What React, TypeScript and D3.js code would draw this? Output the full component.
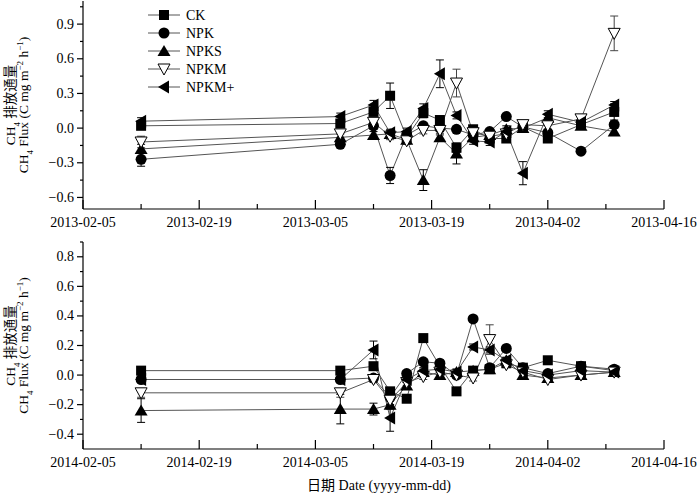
import * as d3 from 'd3';

const SERIES = ['CK', 'NPK', 'NPKS', 'NPKM', 'NPKM+'];

const dates2013 = ['2013-02-12', '2013-03-08', '2013-03-12', '2013-03-14', '2013-03-16', '2013-03-18', '2013-03-20', '2013-03-22', '2013-03-24', '2013-03-26', '2013-03-28', '2013-03-30', '2013-04-02', '2013-04-06', '2013-04-10'];
const dates2014 = ['2014-02-12', '2014-03-08', '2014-03-12', '2014-03-14', '2014-03-16', '2014-03-18', '2014-03-20', '2014-03-22', '2014-03-24', '2014-03-26', '2014-03-28', '2014-03-30', '2014-04-02', '2014-04-06', '2014-04-10'];

// 2013 flux
const ck2013 = [0.02, 0.04, 0.14, 0.28, -0.08, 0.13, 0.07, -0.17, -0.01, -0.09, -0.09, 0.01, -0.09, 0.03, 0.14];
const npk2013 = [-0.27, -0.14, 0.02, -0.41, -0.06, 0.02, 0.0, -0.01, -0.06, -0.03, 0.1, 0.01, -0.04, -0.2, 0.03];
const npks2013 = [-0.18, -0.08, -0.06, -0.05, -0.1, -0.45, -0.08, -0.22, -0.08, -0.06, -0.01, 0.0, 0.09, 0.02, -0.03];
const npkm2013 = [-0.12, -0.05, 0.05, -0.07, -0.11, -0.02, -0.02, 0.39, -0.04, -0.07, -0.05, 0.03, 0.02, 0.08, 0.82];
const npkmp2013 = [0.06, 0.1, 0.2, -0.04, -0.03, 0.17, 0.47, 0.11, -0.11, -0.12, -0.03, -0.39, 0.12, 0.05, 0.2];

const ckErr2013 = [0.03, 0.03, 0.03, 0.11, 0.03, 0.04, 0.03, 0.04, 0.03, 0.03, 0.03, 0.03, 0.03, 0.03, 0.07];
const npkErr2013 = [0.06, 0.02, 0.03, 0.07, 0.03, 0.03, 0.03, 0.02, 0.03, 0.02, 0.02, 0.02, 0.02, 0.02, 0.03];
const npksErr2013 = [0.04, 0.03, 0.03, 0.03, 0.03, 0.09, 0.03, 0.09, 0.03, 0.03, 0.03, 0.03, 0.03, 0.03, 0.03];
const npkmErr2013 = [0.05, 0.03, 0.03, 0.03, 0.03, 0.03, 0.04, 0.12, 0.03, 0.03, 0.03, 0.03, 0.03, 0.03, 0.15];
const npkmpErr2013 = [0.03, 0.03, 0.04, 0.03, 0.03, 0.04, 0.12, 0.03, 0.03, 0.03, 0.03, 0.1, 0.03, 0.03, 0.03];

// 2014 flux
const ck2014 = [0.03, 0.03, 0.06, -0.11, -0.16, 0.25, 0.06, -0.11, 0.03, 0.04, 0.08, 0.05, 0.1, 0.06, 0.03];
const npk2014 = [-0.03, -0.03, -0.02, -0.15, 0.01, 0.09, 0.08, 0.0, 0.38, 0.05, 0.18, 0.05, 0.01, 0.06, 0.04];
const npks2014 = [-0.24, -0.23, -0.23, -0.2, -0.07, 0.02, 0.0, 0.02, 0.03, 0.04, 0.1, 0.0, -0.02, 0.0, 0.02];
const npkm2014 = [-0.12, -0.12, -0.03, -0.17, -0.05, -0.01, 0.02, 0.0, -0.02, 0.24, 0.07, 0.02, -0.03, 0.0, 0.02];
const npkmp2014 = [-0.03, -0.03, 0.17, -0.29, -0.03, 0.03, 0.04, 0.02, 0.19, 0.17, 0.1, 0.03, 0.0, 0.03, 0.02];

const ckErr2014 = [0.02, 0.02, 0.02, 0.02, 0.02, 0.02, 0.02, 0.02, 0.02, 0.02, 0.02, 0.02, 0.02, 0.02, 0.02];
const npkErr2014 = [0.02, 0.02, 0.02, 0.02, 0.02, 0.02, 0.02, 0.02, 0.02, 0.02, 0.02, 0.02, 0.02, 0.02, 0.02];
const npksErr2014 = [0.08, 0.1, 0.04, 0.03, 0.02, 0.02, 0.02, 0.02, 0.02, 0.02, 0.02, 0.02, 0.02, 0.02, 0.02];
const npkmErr2014 = [0.03, 0.03, 0.02, 0.03, 0.02, 0.02, 0.02, 0.02, 0.02, 0.1, 0.02, 0.02, 0.02, 0.02, 0.02];
const npkmpErr2014 = [0.02, 0.02, 0.06, 0.09, 0.02, 0.02, 0.02, 0.02, 0.02, 0.02, 0.02, 0.02, 0.02, 0.02, 0.02];

const FONT = "'Liberation Serif', 'Times New Roman', 'Noto Sans CJK SC', serif";
const LINE = '#555';

const parse = d3.utcParse('%Y-%m-%d');
const fmt = d3.utcFormat('%Y-%m-%d');

function Marker({ kind, x, y }: { kind: string; x: number; y: number }) {
  if (kind === 'CK') return <rect x={x - 5} y={y - 5} width={10} height={10} fill="#000" />;
  if (kind === 'NPK') return <circle cx={x} cy={y} r={5.5} fill="#000" />;
  if (kind === 'NPKS')
    return <path d={`M${x},${y - 6}L${x + 6.5},${y + 5}L${x - 6.5},${y + 5}Z`} fill="#000" />;
  if (kind === 'NPKM')
    return <path d={`M${x - 6},${y - 5}L${x + 6},${y - 5}L${x},${y + 6}Z`} fill="#fff" stroke="#000" strokeWidth={1} />;
  return <path d={`M${x - 6},${y}L${x + 5},${y - 6.5}L${x + 5},${y + 6.5}Z`} fill="#000" />;
}

interface PanelProps {
  top: number;
  bottom: number;
  start: string;
  dates: string[];
  values: number[][];
  errors: number[][];
  yDomain: [number, number];
  yMajor: number[];
  yMinor: number[];
  legend?: boolean;
}

function Panel({ top, bottom, start, dates, values, errors, yDomain, yMajor, yMinor, legend }: PanelProps) {
  const left = 83;
  const right = 664;
  const t0 = parse(start)!;
  const t1 = d3.utcDay.offset(t0, 70);
  const x = d3.scaleUtc().domain([t0, t1]).range([left, right]);
  const y = d3.scaleLinear().domain(yDomain).range([bottom, top]);
  const xTicks = d3.utcDay.range(t0, d3.utcDay.offset(t1, 1), 7);
  const ds = dates.map((d) => parse(d)!);
  const line = d3
    .line<[Date, number]>()
    .x((d) => x(d[0]))
    .y((d) => y(d[1]));
  const midY = (top + bottom) / 2;

  return (
    <g>
      {/* series lines */}
      {values.map((vals, si) => (
        <path key={'l' + si} d={line(ds.map((d, i) => [d, vals[i]]))!} fill="none" stroke={LINE} strokeWidth={1} />
      ))}
      {/* error bars */}
      {values.map((vals, si) =>
        vals.map((v, i) => {
          const cx = x(ds[i]);
          const e = errors[si][i];
          const y1 = y(v + e);
          const y2 = y(v - e);
          const col = SERIES[si] === 'NPKM' ? '#444' : '#000';
          return (
            <g key={'e' + si + '-' + i} stroke={col} strokeWidth={1}>
              <line x1={cx} x2={cx} y1={y1} y2={y2} />
              <line x1={cx - 4} x2={cx + 4} y1={y1} y2={y1} />
              <line x1={cx - 4} x2={cx + 4} y1={y2} y2={y2} />
            </g>
          );
        })
      )}
      {/* markers */}
      {values.map((vals, si) =>
        vals.map((v, i) => <Marker key={'m' + si + '-' + i} kind={SERIES[si]} x={x(ds[i])} y={y(v)} />)
      )}

      {/* axes */}
      <g stroke="#000" strokeWidth={1.2} fill="none">
        <line x1={left} x2={left} y1={top} y2={bottom} />
        <line x1={left} x2={right} y1={bottom} y2={bottom} />
        {yMajor.map((t) => (
          <line key={'ym' + t} x1={left - 6} x2={left} y1={y(t)} y2={y(t)} />
        ))}
        {yMinor.map((t) => (
          <line key={'yn' + t} x1={left - 3} x2={left} y1={y(t)} y2={y(t)} />
        ))}
        {xTicks.map((t, i) => (
          <line key={'xt' + i} x1={x(t)} x2={x(t)} y1={bottom} y2={bottom - (i % 2 === 0 ? 9 : 5)} />
        ))}
      </g>
      <g fontFamily={FONT} fontSize={14} fill="#000">
        {yMajor.map((t) => (
          <text key={'yl' + t} x={left - 9} y={y(t)} textAnchor="end" dominantBaseline="central">
            {t < 0 ? '\u2212' + Math.abs(t).toFixed(1) : t.toFixed(1)}
          </text>
        ))}
        {xTicks
          .filter((_, i) => i % 2 === 0)
          .map((t, i) => (
            <text key={'xl' + i} x={x(t)} y={bottom + 18} textAnchor="middle">
              {fmt(t)}
            </text>
          ))}
      </g>
      {/* y title */}
      <g fontFamily={FONT} fontSize={13.5} fill="#000">
        <text transform={`translate(15,${midY}) rotate(-90)`} textAnchor="middle">
          CH<tspan fontSize={9} baselineShift="sub">4</tspan>
          <tspan> 排放通量</tspan>
        </text>
        <text transform={`translate(28,${midY}) rotate(-90)`} textAnchor="middle">
          CH<tspan fontSize={9} baselineShift="sub">4</tspan>
          <tspan> Flux (C mg m</tspan>
          <tspan fontSize={9} baselineShift="super">−2</tspan>
          <tspan> h</tspan>
          <tspan fontSize={9} baselineShift="super">−1</tspan>
          <tspan>)</tspan>
        </text>
      </g>
      {legend && (
        <g fontFamily={FONT} fontSize={14}>
          {SERIES.map((s, i) => {
            const ly = 15 + i * 18;
            return (
              <g key={'lg' + s}>
                <line x1={148} x2={180} y1={ly} y2={ly} stroke={LINE} strokeWidth={1} />
                <Marker kind={s} x={164} y={ly} />
                <text x={186} y={ly} dominantBaseline="central" fill="#000">
                  {s}
                </text>
              </g>
            );
          })}
        </g>
      )}
    </g>
  );
}

export default function App() {
  const values2013 = [ck2013, npk2013, npks2013, npkm2013, npkmp2013];
  const errors2013 = [ckErr2013, npkErr2013, npksErr2013, npkmErr2013, npkmpErr2013];
  const values2014 = [ck2014, npk2014, npks2014, npkm2014, npkmp2014];
  const errors2014 = [ckErr2014, npkErr2014, npksErr2014, npkmErr2014, npkmpErr2014];

  return (
    <div style={{ position: 'absolute', left: 0, top: 0 }}>
      <svg width={700} height={499} style={{ display: 'block', background: '#fff' }}>
        <Panel
          top={1}
          bottom={209}
          start="2013-02-05"
          dates={dates2013}
          values={values2013}
          errors={errors2013}
          yDomain={[-0.7, 1.1]}
          yMajor={[-0.6, -0.3, 0, 0.3, 0.6, 0.9]}
          yMinor={[-0.45, -0.15, 0.15, 0.45, 0.75, 1.05]}
          legend
        />
        <Panel
          top={242}
          bottom={449}
          start="2014-02-05"
          dates={dates2014}
          values={values2014}
          errors={errors2014}
          yDomain={[-0.5, 0.9]}
          yMajor={[-0.4, -0.2, 0, 0.2, 0.4, 0.6, 0.8]}
          yMinor={[-0.3, -0.1, 0.1, 0.3, 0.5, 0.7, 0.9]}
        />
        <text x={379} y={490} textAnchor="middle" fontFamily={FONT} fontSize={14} fill="#000">
          日期 Date (yyyy-mm-dd)
        </text>
      </svg>
    </div>
  );
}
